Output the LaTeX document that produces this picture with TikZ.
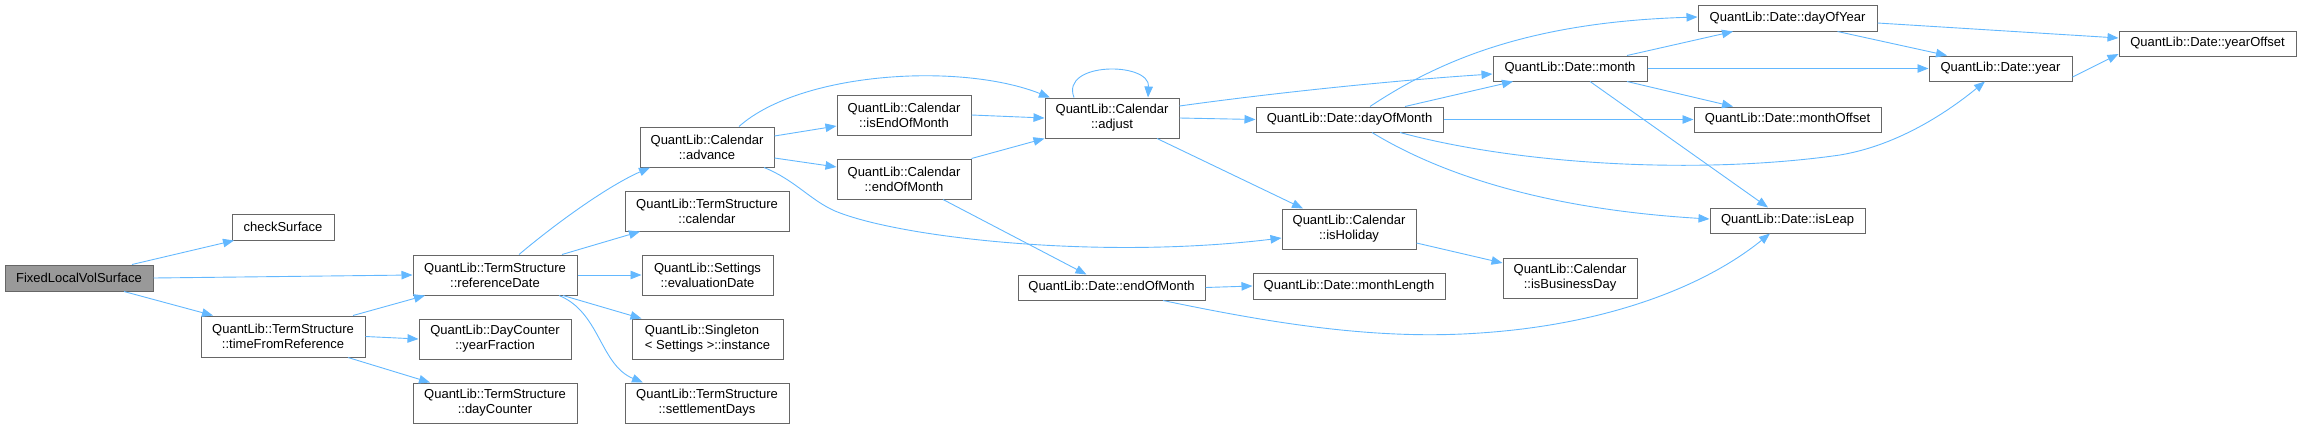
\documentclass[tikz,border=0pt]{standalone}
\usepackage{fontspec}
\setmainfont{Liberation Sans}
\usetikzlibrary{arrows.meta}
\definecolor{edgeblue}{HTML}{63B8FF}
\definecolor{nodeborder}{HTML}{666666}
\definecolor{rootfill}{HTML}{999999}
\begin{document}
\begin{tikzpicture}[x=1pt,y=-1pt,
  fn/.style={draw=nodeborder, line width=1pt, fill=white, inner sep=0pt,
    font=\fontsize{13}{15}\selectfont, align=center, anchor=center},
  rootnode/.style={fn, fill=rootfill},
  conn/.style={draw=edgeblue, line width=0.9pt, -{Triangle[length=11pt,width=8.5pt]}}]
\useasboundingbox (0,0) rectangle (2301,429);
% nodes
\node[rootnode, minimum width=148pt, minimum height=26pt] (flvs) at (79,278) {FixedLocalVolSurface};
\node[fn, minimum width=102pt, minimum height=26pt] (check) at (283,227) {checkSurface};
\node[fn, minimum width=164pt, minimum height=40pt] (refdate) at (495,275) {QuantLib::TermStructure\\::referenceDate};
\node[fn, minimum width=164pt, minimum height=41pt] (tfr) at (283,336.5) {QuantLib::TermStructure\\::timeFromReference};
\node[fn, minimum width=152pt, minimum height=40pt] (yf) at (495,339) {QuantLib::DayCounter\\::yearFraction};
\node[fn, minimum width=164pt, minimum height=40pt] (dc) at (495,403) {QuantLib::TermStructure\\::dayCounter};
\node[fn, minimum width=134pt, minimum height=40pt] (adv) at (707,147) {QuantLib::Calendar\\::advance};
\node[fn, minimum width=164pt, minimum height=40pt] (cal) at (707,211) {QuantLib::TermStructure\\::calendar};
\node[fn, minimum width=131pt, minimum height=40pt] (evd) at (707.5,275) {QuantLib::Settings\\::evaluationDate};
\node[fn, minimum width=151pt, minimum height=40pt, align=left] (inst) at (707.5,339) {QuantLib::Singleton\\< Settings >::instance};
\node[fn, minimum width=164pt, minimum height=40pt] (sd) at (707,403) {QuantLib::TermStructure\\::settlementDays};
\node[fn, minimum width=134pt, minimum height=40pt] (ieom) at (904,115) {QuantLib::Calendar\\::isEndOfMonth};
\node[fn, minimum width=134pt, minimum height=40pt] (ceom) at (904,179) {QuantLib::Calendar\\::endOfMonth};
\node[fn, minimum width=134pt, minimum height=40pt] (adj) at (1112,118) {QuantLib::Calendar\\::adjust};
\node[fn, minimum width=187pt, minimum height=25pt] (dom) at (1349.5,119.5) {QuantLib::Date::dayOfMonth};
\node[fn, minimum width=134pt, minimum height=40pt] (hol) at (1349,229) {QuantLib::Calendar\\::isHoliday};
\node[fn, minimum width=187pt, minimum height=25pt] (deom) at (1111.5,287.5) {QuantLib::Date::endOfMonth};
\node[fn, minimum width=192pt, minimum height=26pt] (mlen) at (1349,286) {QuantLib::Date::monthLength};
\node[fn, minimum width=154pt, minimum height=25pt] (month) at (1570,68.5) {QuantLib::Date::month};
\node[fn, minimum width=179pt, minimum height=26pt] (doy) at (1787.5,18) {QuantLib::Date::dayOfYear};
\node[fn, minimum width=187pt, minimum height=25pt] (moff) at (1787.5,119.5) {QuantLib::Date::monthOffset};
\node[fn, minimum width=155pt, minimum height=25pt] (leap) at (1787.5,220.5) {QuantLib::Date::isLeap};
\node[fn, minimum width=134pt, minimum height=40pt] (bday) at (1570,278) {QuantLib::Calendar\\::isBusinessDay};
\node[fn, minimum width=143pt, minimum height=25pt] (year) at (2000.5,68.5) {QuantLib::Date::year};
\node[fn, minimum width=177pt, minimum height=25pt] (yoff) at (2207.5,43.5) {QuantLib::Date::yearOffset};
% edges
\draw[conn] ([xshift=53pt]flvs.north) -- ([xshift=-49pt]check.south);
\draw[conn] (flvs.east) -- (refdate.west);
\draw[conn] ([xshift=45pt]flvs.south) -- ([xshift=-70pt]tfr.north);
\draw[conn] ([xshift=70pt]tfr.north) -- ([xshift=-70pt]refdate.south);
\draw[conn] (tfr.east) -- (yf.west);
\draw[conn] ([xshift=65pt]tfr.south) -- ([xshift=-65pt]dc.north);
\draw[conn] ([xshift=24pt]refdate.north) .. controls (560,220) and (610,185) .. ([xshift=-57pt]adv.south);
\draw[conn] ([xshift=67pt]refdate.north) -- ([xshift=-67pt]cal.south);
\draw[conn] (refdate.east) -- (evd.west);
\draw[conn] ([xshift=68pt]refdate.south) -- ([xshift=-66pt]inst.north);
\draw[conn] ([xshift=64pt]refdate.south) .. controls (600,312) and (600,365) .. ([xshift=-64pt]sd.north);
\draw[conn] ([xshift=32pt]adv.north) .. controls (800,72) and (960,62) .. ([xshift=-62pt]adj.north);
\draw[conn] ([yshift=11pt]adv.east) -- ([yshift=-11pt]ieom.west);
\draw[conn] ([yshift=-11pt]adv.east) -- ([yshift=12pt]ceom.west);
\draw[conn] ([xshift=57pt]adv.south) .. controls (795,180) and (810,200) .. (835,211) .. controls (900,238) and (1100,260) .. ([yshift=-9pt]hol.west);
\draw[conn] (ieom.east) -- (adj.west);
\draw[conn] (ceom.north east) -- (adj.south west);
\draw[conn] ([xshift=39pt]ceom.south) -- ([xshift=-25pt]deom.north);
\draw[conn] ([xshift=-38pt]adj.north) .. controls +(-14,-36) and +(2,-36) .. ([xshift=36pt]adj.north);
\draw[conn] ([yshift=12pt]adj.east) .. controls (1280,92) and (1400,80) .. ([yshift=-5.5pt]month.west);
\draw[conn] (adj.east) -- (dom.west);
\draw[conn] ([xshift=45pt]adj.south) -- ([xshift=-46pt]hol.north);
\draw[conn] ([xshift=20.5pt]dom.north) .. controls (1440,60) and (1530,22) .. ([yshift=1pt]doy.west);
\draw[conn] ([xshift=55.5pt]dom.north) -- ([xshift=-57pt]month.south);
\draw[conn] (dom.east) -- (moff.west);
\draw[conn] ([xshift=50.5pt]dom.south) .. controls (1520,165) and (1700,175) .. (1840,155) .. controls (1900,145) and (1950,110) .. ([xshift=-15.5pt]year.south);
\draw[conn] ([xshift=22.5pt]dom.south) .. controls (1450,180) and (1560,210) .. ([yshift=1.5pt]leap.west);
\draw[conn] ([xshift=57pt]month.north) -- ([xshift=-54.5pt]doy.south);
\draw[conn] (month.east) -- (year.west);
\draw[conn] ([xshift=57pt]month.south) -- ([xshift=-54.5pt]moff.north);
\draw[conn] ([xshift=20pt]month.south) -- ([xshift=-19.5pt]leap.north);
\draw[conn] ([xshift=50pt]doy.south) -- ([xshift=-53.5pt]year.north);
\draw[conn] ([yshift=-5pt]doy.east) -- ([yshift=5.5pt]yoff.west);
\draw[conn] ([yshift=-8.5pt]year.east) -- ([yshift=-10.5pt]yoff.west);
\draw[conn] ([yshift=-14pt]hol.east) -- ([yshift=15pt]bday.west);
\draw[conn] (deom.east) -- (mlen.west);
\draw[conn] ([xshift=51.5pt]deom.south) .. controls (1280,325) and (1380,340) .. (1480,333) .. controls (1600,325) and (1700,290) .. ([xshift=-17.5pt]leap.south);
\end{tikzpicture}
\end{document}
